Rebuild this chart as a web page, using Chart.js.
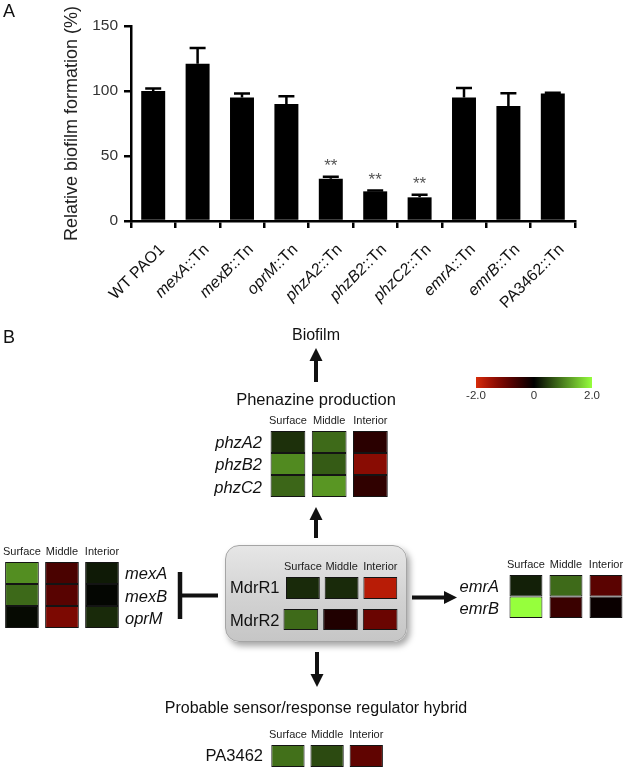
<!DOCTYPE html>
<html>
<head>
<meta charset="utf-8">
<script src="https://cdn.jsdelivr.net/npm/chart.js@4.4.1/dist/chart.umd.min.js"></script>
<style>
    body { margin: 0; width: 625px; height: 767px; position: relative; overflow: hidden; background: #fff;
           font-family: "Liberation Sans", Arial, Helvetica, sans-serif; color: #111; }
    canvas, .t, svg, .box, .cbar { position: absolute; }
    .t { white-space: nowrap; line-height: 1; }
    .box { left: 225px; top: 545px; width: 180px; height: 95px; border-radius: 14px; border: 1px solid #a5a5a5;
           background: linear-gradient(180deg, #e6e6e6 0%, #d2d2d2 55%, #c6c6c6 100%);
           box-shadow: 3px 4px 6px rgba(0,0,0,0.35); }
</style>
</head>
<body>
<canvas id="barChart" width="625" height="320" style="left:0;top:0"></canvas>
<div class="box"></div>
<canvas id="hmPhz"></canvas>
<canvas id="hmMex"></canvas>
<canvas id="hmMdr1"></canvas>
<canvas id="hmMdr2"></canvas>
<canvas id="hmEmr"></canvas>
<canvas id="hmPa"></canvas>
<div class="cbar" id="cbar"></div>
<svg id="arrows" width="625" height="767" style="left:0;top:0"></svg>

<script>
// --- Panel A data ---
const strains = ['WT PAO1', 'mexA::Tn', 'mexB::Tn', 'oprM::Tn', 'phzA2::Tn', 'phzB2::Tn', 'phzC2::Tn', 'emrA::Tn', 'emrB::Tn', 'PA3462::Tn'];
const biofilm = [100, 121, 95, 90, 32.5, 22.8, 18.2, 95, 88.5, 98];
const biofilmSD = [2, 12, 3, 6, 1.5, 0.6, 2, 7.3, 9.7, 0.6];
const significance = ['', '', '', '', '**', '**', '**', '', '', ''];
const yTicks = [0, 50, 100, 150];

// --- Panel B data (log ratio, colour scale -2..2) ---
const layers = ['Surface', 'Middle', 'Interior'];
const phzGenes = ['phzA2', 'phzB2', 'phzC2'];
const phzExpr = [[0.38, 0.83, -0.39], [1.08, 0.71, -1.27], [0.80, 1.18, -0.45]];
const mexGenes = ['mexA', 'mexB', 'oprM'];
const mexExpr = [[1.11, -0.69, 0.20], [0.82, -0.82, 0.05], [0.08, -1.15, 0.33]];
const mdrGenes = ['MdrR1', 'MdrR2'];
const mdrExpr = [[0.33, 0.33, -1.71], [0.83, -0.30, -0.99]];
const emrGenes = ['emrA', 'emrB'];
const emrExpr = [[0.25, 0.83, -0.84], [2.0, -0.54, -0.09]];
const paGenes = ['PA3462'];
const paExpr = [[0.88, 0.58, -0.89]];
const colorTicks = [-2, 0, 2];

const FONT = '"Liberation Sans", Arial, Helvetica, sans-serif';
Chart.defaults.font.family = FONT;

// en-têtes des colonnes : police étroite si disponible
function hasFont(name) {
    const c = document.createElement('canvas').getContext('2d');
    c.font = '20px monospace';
    const a = c.measureText('Surface Middle Interior').width;
    c.font = `20px "${name}", monospace`;
    return c.measureText('Surface Middle Interior').width !== a;
}
const HEAD_FONT = hasFont('Liberation Sans Narrow')
    ? { family: '"Liberation Sans Narrow", ' + FONT, size: 12.5 }
    : { family: FONT, size: 11 };

// rouge -> noir -> vert
function exprColor(v) {
    const t = Math.min(Math.abs(v) / 2, 1);
    if (v >= 0) return `rgb(${Math.round(150 * t)},${Math.round(255 * t)},${Math.round(60 * t)})`;
    return `rgb(${Math.round(215 * t)},${Math.round(45 * t * t * t)},${Math.round(10 * t * t * t)})`;
}

function put(text, x, y, opts = {}) {
    const d = document.createElement('div');
    d.className = 't';
    d.style.fontSize = (opts.size || 16) + 'px';
    d.style.fontStyle = opts.italic ? 'italic' : 'normal';
    d.style.color = opts.color || '#111';
    const tx = opts.align === 'right' ? '-100%' : opts.align === 'left' ? '0' : '-50%';
    d.style.left = x + 'px';
    d.style.top = y + 'px';
    d.style.transform = `translate(${tx}, -50%)`;
    d.textContent = text;
    document.body.appendChild(d);
}

// error bars, asterisks and mixed italic x labels
const barExtras = {
    id: 'barExtras',
    afterDraw(chart) {
        const { ctx, scales: { x, y } } = chart;
        const meta = chart.getDatasetMeta(0);
        ctx.save();
        ctx.strokeStyle = '#000';
        ctx.lineWidth = 2.5;
        meta.data.forEach((bar, i) => {
            const top = y.getPixelForValue(biofilm[i] + biofilmSD[i]);
            ctx.beginPath();
            ctx.moveTo(bar.x, bar.y);
            ctx.lineTo(bar.x, top);
            ctx.moveTo(bar.x - 8, top);
            ctx.lineTo(bar.x + 8, top);
            ctx.stroke();
            if (significance[i]) {
                ctx.fillStyle = '#555';
                ctx.font = '17px ' + FONT;
                ctx.textAlign = 'center';
                ctx.textBaseline = 'middle';
                ctx.fillText(significance[i], bar.x, top - 10);
            }
        });

        strains.forEach((name, i) => {
            const px = x.getPixelForTick(i);
            const parts = name.split('::');
            const suffix = parts.length > 1 ? '::' + parts[1] : '';
            const italic = /^[a-z]/.test(parts[0]);
            ctx.save();
            ctx.translate(px + 9, y.bottom + 26);
            ctx.rotate(-Math.PI / 4);
            ctx.fillStyle = '#111';
            ctx.textAlign = 'right';
            ctx.textBaseline = 'middle';
            ctx.font = '16px ' + FONT;
            const sw = suffix ? ctx.measureText(suffix).width : 0;
            if (suffix) ctx.fillText(suffix, 0, 0);
            ctx.font = (italic ? 'italic ' : '') + '16px ' + FONT;
            ctx.fillText(parts[0], -sw, 0);
            ctx.restore();
        });
        ctx.restore();
    }
};

new Chart(document.getElementById('barChart'), {
    type: 'bar',
    data: {
        labels: strains,
        datasets: [{
            data: biofilm,
            backgroundColor: '#000',
            barPercentage: 0.54,
            categoryPercentage: 1
        }]
    },
    options: {
        responsive: false,
        animation: false,
        events: [],
        layout: { padding: { top: 26, right: 50, bottom: 0, left: 0 } },
        plugins: { legend: { display: false }, tooltip: { enabled: false } },
        scales: {
            x: {
                grid: { display: true, drawOnChartArea: false, drawTicks: true, tickLength: 7, color: '#000', lineWidth: 2.5 },
                border: { display: true, color: '#000', width: 2.5 },
                ticks: { display: false },
                afterFit: s => { s.height = 320 - 221; }
            },
            y: {
                min: 0,
                max: 150,
                afterBuildTicks: s => { s.ticks = yTicks.map(v => ({ value: v })); },
                grid: { display: true, drawOnChartArea: false, drawTicks: true, tickLength: 7, color: '#000', lineWidth: 2.5 },
                border: { display: true, color: '#000', width: 2.5 },
                ticks: { color: '#333', font: { size: 15.5 }, padding: 6 },
                title: {
                    display: true,
                    text: 'Relative biofilm formation (%)',
                    color: '#222',
                    font: { size: 18 },
                    padding: { top: 61, bottom: 0 }
                },
                afterFit: s => { s.width = 131; }
            }
        }
    },
    plugins: [barExtras]
});

// heatmap = stacked unit bars, one dataset per gene row
function heatmap(id, values, box) {
    const headH = box.header ? 16 : 0;
    const cv = document.getElementById(id);
    cv.width = Math.round(box.col * 3);
    cv.height = Math.round(headH + box.row * values.length);
    cv.style.left = (box.x - (box.col - box.w) / 2) + 'px';
    cv.style.top = (box.y - headH) + 'px';
    new Chart(cv, {
        type: 'bar',
        data: {
            labels: layers,
            datasets: values.map(row => ({
                data: row.map(() => 1),
                backgroundColor: row.map(exprColor),
                borderColor: '#141414',
                borderWidth: 1,
                borderSkipped: false,
                barPercentage: box.w / box.col,
                categoryPercentage: 1
            }))
        },
        options: {
            responsive: false,
            animation: false,
            events: [],
            layout: { padding: 0 },
            plugins: { legend: { display: false }, tooltip: { enabled: false } },
            scales: {
                x: {
                    stacked: true,
                    position: 'top',
                    display: !!box.header,
                    grid: { display: false, drawTicks: false, tickLength: 0 },
                    border: { display: false },
                    ticks: { color: '#222', font: HEAD_FONT, padding: 3, maxRotation: 0, autoSkip: false },
                    afterFit: s => { s.height = headH; }
                },
                y: { stacked: true, reverse: true, min: 0, max: values.length, display: false }
            }
        }
    });
}

heatmap('hmPhz', phzExpr, { x: 269.3, y: 430.5, col: 41.5, w: 35, row: 22.1, header: true });
heatmap('hmMex', mexExpr, { x: 3, y: 561.7, col: 40.7, w: 34.3, row: 21.9, header: true });
heatmap('hmMdr1', mdrExpr.slice(0, 1), { x: 283.3, y: 576.7, col: 39.7, w: 34.7, row: 21.6, header: true });
heatmap('hmMdr2', mdrExpr.slice(1, 2), { x: 283.3, y: 609.3, col: 39.7, w: 34.7, row: 21.4, header: false });
heatmap('hmEmr', emrExpr, { x: 508, y: 575.3, col: 40.7, w: 33.5, row: 21.5, header: true });
heatmap('hmPa', paExpr, { x: 269.3, y: 744.5, col: 40, w: 34, row: 21.5, header: true });

// colour bar
const cbar = document.getElementById('cbar');
const cbX = 476, cbW = 116;
const stops = [];
for (let v = -2; v <= 2.0001; v += 0.25) stops.push(`${exprColor(v)} ${((v + 2) / 4 * 100).toFixed(1)}%`);
Object.assign(cbar.style, { left: cbX + 'px', top: '377px', width: cbW + 'px', height: '10.5px',
    background: `linear-gradient(to right, ${stops.join(',')})` });
colorTicks.forEach(v => put(v === 0 ? '0' : v.toFixed(1), cbX + (v + 2) / 4 * cbW, 396, { size: 11.5, color: '#333' }));

// texts
put('A', 3, 11, { size: 18, align: 'left' });
put('B', 3, 337, { size: 18, align: 'left' });
put('Biofilm', 316, 335, { size: 16 });
put('Phenazine production', 316, 399, { size: 16.5 });
put('Probable sensor/response regulator hybrid', 316, 708, { size: 16 });
[441.7, 464, 486.7].forEach((y, i) => put(phzGenes[i], 262, y, { size: 16.5, italic: true, align: 'right' }));
[573, 595.7, 618].forEach((y, i) => put(mexGenes[i], 125, y, { size: 16.5, italic: true, align: 'left' }));
[587, 620].forEach((y, i) => put(mdrGenes[i], 230, y, { size: 16.5, align: 'left' }));
[585.7, 608].forEach((y, i) => put(emrGenes[i], 499, y, { size: 16.5, italic: true, align: 'right' }));
put(paGenes[0], 263, 755, { size: 16.5, align: 'right' });

// arrows
const svg = document.getElementById('arrows');
function svgEl(tag, attrs) {
    const e = document.createElementNS('http://www.w3.org/2000/svg', tag);
    Object.entries(attrs).forEach(([k, v]) => e.setAttribute(k, v));
    svg.appendChild(e);
}
function arrow(x1, y1, x2, y2) {
    const len = Math.hypot(x2 - x1, y2 - y1), ux = (x2 - x1) / len, uy = (y2 - y1) / len;
    const hl = 13, hw = 6.5;
    const bx = x2 - ux * hl, by = y2 - uy * hl;
    svgEl('line', { x1, y1, x2: bx + ux, y2: by + uy, stroke: '#111', 'stroke-width': 4 });
    svgEl('polygon', { points: `${x2},${y2} ${bx - uy * hw},${by + ux * hw} ${bx + uy * hw},${by - ux * hw}`, fill: '#111' });
}
arrow(316, 382, 316, 348);
arrow(316, 538, 316, 507);
arrow(317, 652, 317, 687);
arrow(412, 597.5, 457, 597.5);
svgEl('line', { x1: 218, y1: 595.5, x2: 180, y2: 595.5, stroke: '#111', 'stroke-width': 4 });
svgEl('line', { x1: 180, y1: 572, x2: 180, y2: 619, stroke: '#111', 'stroke-width': 4.5 });
</script>
</body>
</html>
